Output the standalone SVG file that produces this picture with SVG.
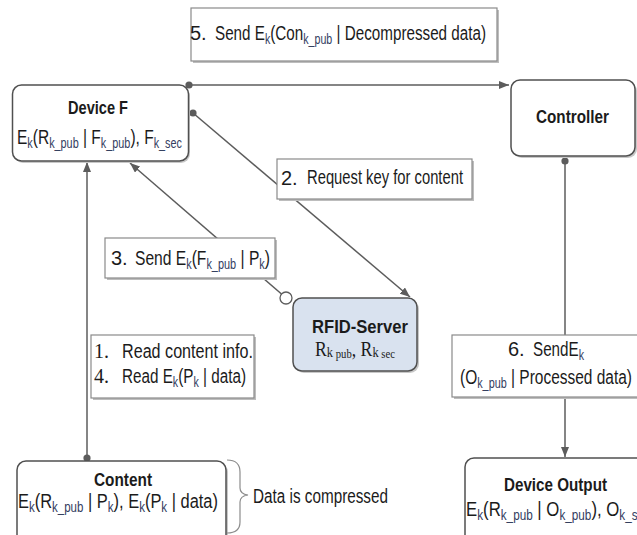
<svg xmlns="http://www.w3.org/2000/svg" width="637" height="535" viewBox="0 0 637 535">
  <defs>
    <style>
      .t { font-family: "Liberation Sans", Arial, sans-serif; font-size: 20px; fill: #1b1b1b; }
      .b { font-weight: bold; font-size: 19px; }
      .sr { font-family: "Liberation Serif", "Times New Roman", serif; }
      .sb { font-size: 14px; fill: #34405f; }
      .node { fill: #ffffff; stroke: #505050; stroke-width: 1.5; }
      .nsh { fill: #c8c8c8; }
      .box { fill: #ffffff; stroke: #8a8a8a; stroke-width: 1.2; }
      .bsh { fill: #bdbdbd; }
      .ln { fill: none; stroke: #5c5c5c; stroke-width: 1.5; }
    </style>
    <marker id="arr" viewBox="0 0 10 8" refX="10" refY="4" markerWidth="10" markerHeight="8" markerUnits="userSpaceOnUse" orient="auto">
      <path d="M0,0 L10,4 L0,8 z" fill="#5c5c5c"/>
    </marker>
    <marker id="dot" viewBox="0 0 8 8" refX="4" refY="4" markerWidth="8" markerHeight="8" markerUnits="userSpaceOnUse">
      <circle cx="4" cy="4" r="3.6" fill="#5c5c5c"/>
    </marker>
  </defs>

  <rect width="637" height="535" fill="#ffffff"/>

  <!-- connectors -->
  <g id="connectors">
    <path class="ln" d="M189,85 L509,85" stroke-width="2" stroke="#666" marker-start="url(#dot)" marker-end="url(#arr)"/>
    <path class="ln" d="M193,113 L410,297" marker-start="url(#dot)" marker-end="url(#arr)"/>
    <path class="ln" d="M281.5,294 L130,163" marker-end="url(#arr)"/>
    <circle cx="286" cy="298" r="6" fill="#ffffff" stroke="#5c5c5c" stroke-width="1.3"/>
    <path class="ln" d="M87,458 L87,162" stroke-width="1.3" marker-start="url(#dot)" marker-end="url(#arr)"/>
    <path class="ln" d="M565,161 L565,457" stroke="#777" stroke-width="2" marker-start="url(#dot)" marker-end="url(#arr)"/>
  </g>

  <!-- step labels -->
  <g id="label-5">
    <rect class="bsh" x="193" y="10" width="306" height="53"/>
    <rect class="box" x="191" y="8" width="306" height="53"/>
    <text class="t" x="190" y="40">5.</text>
    <text class="t" x="215" y="40" textLength="271" lengthAdjust="spacingAndGlyphs">Send E<tspan class="sb" dy="4">k</tspan><tspan dy="-4">(Con</tspan><tspan class="sb" dy="4">k_pub</tspan><tspan dy="-4"> | Decompressed data)</tspan></text>
  </g>

  <g id="label-2">
    <rect class="bsh" x="279" y="161" width="195" height="40"/>
    <rect class="box" x="277" y="159" width="195" height="40"/>
    <text class="t" x="281" y="185">2.</text>
    <text class="t" x="307" y="184" textLength="156" lengthAdjust="spacingAndGlyphs">Request key for content</text>
  </g>

  <g id="label-3">
    <rect class="bsh" x="107" y="240" width="170" height="40"/>
    <rect class="box" x="105" y="238" width="170" height="40"/>
    <text class="t" x="111" y="265">3.</text>
    <text class="t" x="135" y="265" textLength="135" lengthAdjust="spacingAndGlyphs">Send E<tspan class="sb" dy="4">k</tspan><tspan dy="-4">(F</tspan><tspan class="sb" dy="4">k_pub</tspan><tspan dy="-4"> | P</tspan><tspan class="sb" dy="4">k</tspan><tspan dy="-4">)</tspan></text>
  </g>

  <g id="label-1-4">
    <rect class="bsh" x="93" y="337" width="163" height="63"/>
    <rect class="box" x="91" y="335" width="163" height="63"/>
    <text class="t sr" x="94" y="358">1.</text>
    <text class="t" x="122" y="358" textLength="131" lengthAdjust="spacingAndGlyphs">Read content info.</text>
    <text class="t sr" x="94" y="383">4.</text>
    <text class="t" x="122" y="383" textLength="124" lengthAdjust="spacingAndGlyphs">Read E<tspan class="sb" dy="4">k</tspan><tspan dy="-4">(P</tspan><tspan class="sb" dy="4">k</tspan><tspan dy="-4"> | data)</tspan></text>
  </g>

  <g id="label-6">
    <rect class="bsh" x="454" y="337" width="190" height="62"/>
    <rect class="box" x="452" y="335" width="190" height="62"/>
    <text class="t" x="508" y="356">6.</text>
    <text class="t" x="533" y="356" textLength="51" lengthAdjust="spacingAndGlyphs">SendE<tspan class="sb" dy="4">k</tspan></text>
    <text class="t" x="460" y="384" textLength="172" lengthAdjust="spacingAndGlyphs">(O<tspan class="sb" dy="4">k_pub</tspan><tspan dy="-4"> | Processed data)</tspan></text>
  </g>

  <!-- nodes -->
  <g id="device-f">
    <rect class="nsh" x="14" y="87" width="176" height="76" rx="9"/>
    <rect class="node" x="12.5" y="85" width="176" height="76" rx="9"/>
    <text class="t b" x="68" y="114" textLength="60" lengthAdjust="spacingAndGlyphs">Device F</text>
    <text class="t" x="17" y="144" textLength="165" lengthAdjust="spacingAndGlyphs">E<tspan class="sb" dy="4">k</tspan><tspan dy="-4">(R</tspan><tspan class="sb" dy="4">k_pub</tspan><tspan dy="-4"> | F</tspan><tspan class="sb" dy="4">k_pub</tspan><tspan dy="-4">), F</tspan><tspan class="sb" dy="4">k_sec</tspan></text>
  </g>

  <g id="controller">
    <rect class="nsh" x="513" y="82" width="124" height="76" rx="9"/>
    <rect class="node" x="511" y="80" width="124" height="76" rx="9"/>
    <text class="t b" x="536" y="123" textLength="73" lengthAdjust="spacingAndGlyphs">Controller</text>
  </g>

  <g id="rfid-server">
    <rect class="nsh" x="295" y="300" width="124" height="73" rx="9"/>
    <rect class="node" x="293" y="298" width="124" height="73" rx="9" style="fill:#d9e2ef"/>
    <text class="t b" x="312" y="333" textLength="96" lengthAdjust="spacingAndGlyphs">RFID-Server</text>
    <text class="t sr" x="315" y="356" font-size="17" textLength="80" lengthAdjust="spacingAndGlyphs">R<tspan font-size="14" dy="1">k</tspan><tspan font-size="12" dy="1"> pub</tspan><tspan dy="-2">, R</tspan><tspan font-size="14" dy="1">k</tspan><tspan font-size="12" dy="1"> sec</tspan></text>
  </g>

  <g id="content">
    <rect class="nsh" x="19" y="463" width="209" height="85" rx="9"/>
    <rect class="node" x="17" y="461" width="209" height="85" rx="9"/>
    <text class="t b" x="94" y="486" textLength="58" lengthAdjust="spacingAndGlyphs">Content</text>
    <text class="t" x="18" y="508" textLength="200" lengthAdjust="spacingAndGlyphs">E<tspan class="sb" dy="4">k</tspan><tspan dy="-4">(R</tspan><tspan class="sb" dy="4">k_pub</tspan><tspan dy="-4"> | P</tspan><tspan class="sb" dy="4">k</tspan><tspan dy="-4">), E</tspan><tspan class="sb" dy="4">k</tspan><tspan dy="-4">(P</tspan><tspan class="sb" dy="4">k</tspan><tspan dy="-4"> | data)</tspan></text>
  </g>

  <g id="compressed-note">
    <path d="M227,460 Q240,460 240,472 L240,488 Q240,494 248,495 Q240,496 240,502 L240,522 Q240,533 227,533" fill="none" stroke="#8c8c8c" stroke-width="1.2"/>
    <text class="t" x="253" y="503" textLength="135" lengthAdjust="spacingAndGlyphs">Data is compressed</text>
  </g>

  <g id="device-output">
    <rect class="nsh" x="467" y="460" width="190" height="90" rx="9"/>
    <rect class="node" x="465" y="458" width="190" height="90" rx="9"/>
    <text class="t b" x="504" y="491" textLength="103" lengthAdjust="spacingAndGlyphs">Device Output</text>
    <text class="t" x="466" y="516" textLength="184" lengthAdjust="spacingAndGlyphs">E<tspan class="sb" dy="4">k</tspan><tspan dy="-4">(R</tspan><tspan class="sb" dy="4">k_pub</tspan><tspan dy="-4"> | O</tspan><tspan class="sb" dy="4">k_pub</tspan><tspan dy="-4">), O</tspan><tspan class="sb" dy="4">k_sec</tspan></text>
  </g>
</svg>
